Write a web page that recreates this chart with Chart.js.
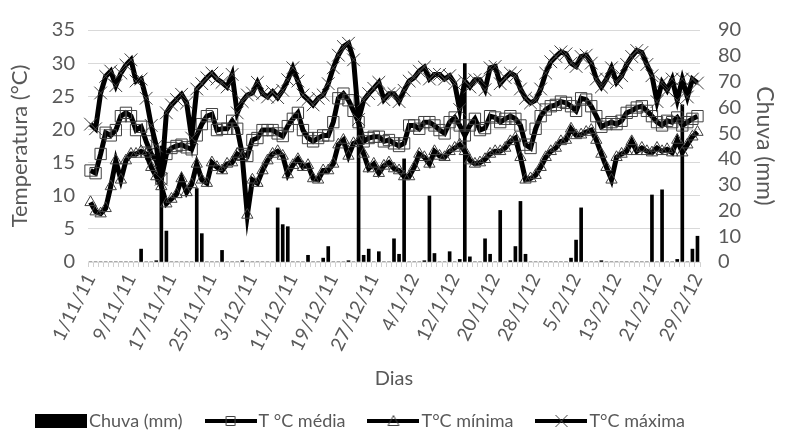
<!DOCTYPE html>
<html>
<head>
<meta charset="utf-8">
<script src="https://cdn.jsdelivr.net/npm/chart.js@4.4.1/dist/chart.umd.min.js"></script>
<style>
  html, body { margin: 0; padding: 0; background: #fff; }
  #wrap { position: relative; width: 785px; height: 433px; }
</style>
</head>
<body>
<div id="wrap"><canvas id="climaChart"></canvas></div>
<script>
// dias de 1/11/11 a 29/2/12
const dias = [
  '1/11/11','2/11/11','3/11/11','4/11/11','5/11/11','6/11/11','7/11/11','8/11/11','9/11/11','10/11/11',
  '11/11/11','12/11/11','13/11/11','14/11/11','15/11/11','16/11/11','17/11/11','18/11/11','19/11/11','20/11/11',
  '21/11/11','22/11/11','23/11/11','24/11/11','25/11/11','26/11/11','27/11/11','28/11/11','29/11/11','30/11/11',
  '1/12/11','2/12/11','3/12/11','4/12/11','5/12/11','6/12/11','7/12/11','8/12/11','9/12/11','10/12/11',
  '11/12/11','12/12/11','13/12/11','14/12/11','15/12/11','16/12/11','17/12/11','18/12/11','19/12/11','20/12/11',
  '21/12/11','22/12/11','23/12/11','24/12/11','25/12/11','26/12/11','27/12/11','28/12/11','29/12/11','30/12/11',
  '31/12/11','1/1/12','2/1/12','3/1/12','4/1/12','5/1/12','6/1/12','7/1/12','8/1/12','9/1/12',
  '10/1/12','11/1/12','12/1/12','13/1/12','14/1/12','15/1/12','16/1/12','17/1/12','18/1/12','19/1/12',
  '20/1/12','21/1/12','22/1/12','23/1/12','24/1/12','25/1/12','26/1/12','27/1/12','28/1/12','29/1/12',
  '30/1/12','31/1/12','1/2/12','2/2/12','3/2/12','4/2/12','5/2/12','6/2/12','7/2/12','8/2/12',
  '9/2/12','10/2/12','11/2/12','12/2/12','13/2/12','14/2/12','15/2/12','16/2/12','17/2/12','18/2/12',
  '19/2/12','20/2/12','21/2/12','22/2/12','23/2/12','24/2/12','25/2/12','26/2/12','27/2/12','28/2/12',
  '29/2/12'
];

const chuva = [
  0, 0, 0, 0, 0, 0, 0, 0, 0, 0,
  5, 0, 0, 0.5, 45, 12, 0, 0, 0, 0,
  0, 28.5, 11, 0, 0, 0, 4.5, 0, 0, 0,
  0.5, 0, 0, 0, 0, 0, 0, 21, 14.5, 13.7,
  0, 0, 0, 2.6, 0, 0, 1.5, 6, 0, 0,
  0, 0.5, 0, 55, 2.6, 5, 0, 4, 0, 0,
  9, 3, 40, 0, 0, 0, 0.5, 25.6, 3.3, 0,
  0, 4, 0, 1, 77, 2, 0, 0, 9, 3,
  0, 20, 0, 0.5, 6, 23.5, 3, 0, 0, 0,
  0, 0, 0, 0, 0, 1.5, 8.5, 21, 0, 0,
  0, 0.5, 0, 0, 0, 0, 0, 0, 0, 0,
  0, 26, 0, 28, 0, 0, 1, 61, 0, 5,
  10
];

const tMedia = [
  13.8, 13.4, 16.3, 19.5, 19.1, 19.9, 22, 22.5, 22, 19.9,
  20.4, 18.2, 16.3, 15.3, 12.6, 16.3, 17.2, 17.5, 17.7, 17.3,
  17, 19.1, 20.8, 22, 22.3, 19.9, 20.1, 20.1, 21.3, 20.1,
  16.3, 16, 18.4, 18.7, 19.9, 19.9, 19.9, 19.4, 19, 20.5,
  21.6, 22.5, 19.9, 18.7, 18.2, 18.7, 19.1, 19.1, 21.1, 24.7,
  25.4, 24.4, 22.8, 21.1, 18.2, 18.7, 18.9, 18.9, 18.2, 18.4,
  17.9, 17.5, 17.9, 20.6, 20.6, 20.1, 21.1, 21.1, 20.6, 19.9,
  19.4, 21.1, 21.8, 20.6, 19.1, 20.6, 21.6, 19.9, 20.2, 22,
  21.8, 21.1, 21.6, 22, 21.6, 20.6, 17.7, 17.2, 20.1, 22,
  23, 23.5, 23.7, 24.2, 24, 23.5, 22.8, 24.7, 24.5, 23.5,
  22, 20.4, 20.8, 21.1, 20.8, 21.3, 22.5, 22.8, 23.3, 23.5,
  22.8, 22, 21.1, 20.6, 21.3, 21.1, 21.8, 20.6, 21.1, 21.6,
  22
];

const tMinima = [
  9, 7.6, 7.3, 8.1, 11.4, 15.3, 12.4, 15.3, 16.3, 16.3,
  16.7, 16.3, 14.3, 12.9, 11.4, 8.8, 9.5, 10.2, 12.6, 10.5,
  11.7, 14.8, 12.4, 11.9, 15, 14.3, 13.8, 14.8, 15, 16.3,
  15.8, 7.1, 12.4, 11.9, 13.8, 15.3, 16.3, 16.7, 16, 13.2,
  14.6, 15.5, 14.3, 14.6, 12.6, 12.4, 13.8, 13.8, 14.8, 17.7,
  18.4, 16, 17.9, 18.2, 16.3, 14.1, 14.8, 13.4, 14.5, 15,
  14.1, 13.8, 12.9, 12.9, 14.3, 16.3, 15.8, 14.8, 16.7, 16,
  15.8, 16.7, 17.2, 17.7, 16.7, 15.3, 14.8, 15, 15.5, 16.3,
  16.7, 16.7, 17.2, 18.2, 18.7, 15.8, 12.4, 12.6, 13.1, 14.3,
  15.8, 16.7, 17.2, 18.2, 18.4, 20.1, 19.1, 19.2, 19.6, 19.9,
  18.4, 16.3, 14.3, 12.4, 15.8, 16.3, 16.7, 18.2, 16.7, 17.2,
  16.7, 16.5, 17.2, 16.7, 17, 16.5, 18.4, 16.5, 17.7, 18.9,
  19.6
];

const tMaxima = [
  20.8, 20.1, 25.5, 28, 28.8, 26.6, 28.5, 29.7, 30.5, 27.3,
  27.6, 24.7, 20.6, 17.5, 12.5, 22.5, 23.7, 24.5, 25.3, 24,
  18.7, 26.1, 26.9, 27.8, 28.5, 27.6, 27.1, 26.4, 28.3, 22.5,
  24.2, 25.2, 25.5, 27.1, 25.4, 24.9, 25.7, 24.8, 25.9, 27.5,
  29.3, 27.3, 25.2, 24.5, 23.7, 24.7, 25.2, 26.9, 29.3, 31.2,
  32.5, 33, 30.5, 21.5, 24.4, 25.4, 26.2, 27.1, 24.5, 25.4,
  25.4, 24.2, 25.9, 27.3, 27.8, 28.8, 29.4, 27.6, 28.3, 28.3,
  27.6, 28.1, 26.9, 23, 27.3, 26.4, 27.5, 27.5, 26, 29.3,
  29.5, 26.9, 27.8, 28.5, 28.1, 26.1, 24.7, 24, 24.4, 26.1,
  28.5, 30.2, 31, 31.7, 31.4, 30, 29.5, 31, 31.2, 30,
  27.6, 26.4, 27.6, 29.3, 27.1, 28.1, 29.8, 31, 31.9, 31.6,
  29.8, 28.1, 24.2, 27.1, 25.9, 27.6, 24.4, 27.6, 24.9, 27.6,
  27
];

const nomes = ['Chuva (mm)', 'T °C média', 'T°C mínima', 'T°C máxima'];

const grayText = '#595959';
const markerColor = '#404040';
const fontFamily = 'Lato, "Open Sans", sans-serif';

// legend swatch like Excel: line with marker in the middle
function makeSwatch(kind) {
  const c = document.createElement('canvas');
  c.width = 52;
  c.height = 18;
  const g = c.getContext('2d');
  if (kind === 'bar') {
    g.fillStyle = '#000';
    g.fillRect(0, 2, 52, 14);
    return c;
  }
  g.strokeStyle = '#000';
  g.lineWidth = 4;
  g.beginPath();
  g.moveTo(0, 9);
  g.lineTo(52, 9);
  g.stroke();
  g.strokeStyle = markerColor;
  g.lineWidth = 1;
  g.beginPath();
  if (kind === 'rect') {
    g.rect(21.5, 4.5, 9, 9);
  } else if (kind === 'triangle') {
    g.moveTo(26, 3.5);
    g.lineTo(31.5, 13.5);
    g.lineTo(20.5, 13.5);
    g.closePath();
  } else {
    g.moveTo(20, 3);
    g.lineTo(32, 15);
    g.moveTo(32, 3);
    g.lineTo(20, 15);
  }
  g.stroke();
  return c;
}

const swatches = [makeSwatch('bar'), makeSwatch('rect'), makeSwatch('triangle'), makeSwatch('cross')];

// Excel-like legend drawn under the axis title
const legendaPlugin = {
  id: 'legenda',
  afterDraw(chart) {
    const ctx = chart.ctx;
    ctx.save();
    ctx.font = '18px ' + fontFamily;
    ctx.fillStyle = grayText;
    ctx.textBaseline = 'middle';
    let x = 35;
    const y = 421;
    nomes.forEach((n, i) => {
      ctx.drawImage(swatches[i], x, y - 9);
      ctx.fillText(n, x + 54, y);
      x += 54 + ctx.measureText(n).width + 22;
    });
    ctx.restore();
  }
};

function lineSet(label, data, style, radius, order) {
  return {
    type: 'line',
    label: label,
    data: data,
    yAxisID: 'y',
    borderColor: '#000',
    borderWidth: 5,
    tension: 0,
    pointStyle: style,
    pointRadius: radius,
    pointBorderColor: markerColor,
    pointBackgroundColor: 'rgba(0,0,0,0)',
    pointBorderWidth: 1,
    order: order
  };
}

function initChart() {
  const canvas = document.getElementById('climaChart');
  const ctx = canvas.getContext('2d');

  window.climaChart = new Chart(ctx, {
    data: {
      labels: dias,
      datasets: [
        {
          type: 'bar',
          label: nomes[0],
          data: chuva,
          yAxisID: 'y1',
          backgroundColor: '#000',
          barThickness: 3,
          order: 4
        },
        lineSet(nomes[1], tMedia, 'rect', 8, 3),
        lineSet(nomes[2], tMinima, 'triangle', 6.5, 2),
        lineSet(nomes[3], tMaxima, 'crossRot', 9, 1)
      ]
    },
    plugins: [legendaPlugin],
    options: {
      responsive: true,
      maintainAspectRatio: false,
      animation: false,
      layout: { padding: { left: 0, right: 0, top: 10, bottom: 40 } },
      plugins: {
        tooltip: { enabled: false },
        legend: { display: false }
      },
      scales: {
        x: {
          type: 'category',
          offset: true,
          afterFit: (scale) => { scale.height = 131; },
          grid: {
            display: true,
            drawOnChartArea: false,
            drawTicks: true,
            tickLength: 5,
            color: '#d0d0d0'
          },
          border: { display: true, color: '#d9d9d9' },
          ticks: {
            autoSkip: false,
            minRotation: 63,
            maxRotation: 63,
            color: grayText,
            font: { family: fontFamily, size: 19 },
            callback: (v, i) => (i % 8 === 0 ? dias[i] : '')
          },
          title: {
            display: true,
            text: 'Dias',
            color: grayText,
            font: { family: fontFamily, size: 20 },
            padding: { top: 0, bottom: 2 }
          }
        },
        y: {
          position: 'left',
          min: 0,
          max: 35,
          afterFit: (scale) => { scale.width = 88; },
          grid: { color: '#d9d9d9', drawTicks: false },
          border: { display: false },
          ticks: {
            stepSize: 5,
            padding: 13,
            color: grayText,
            font: { family: fontFamily, size: 20 }
          },
          title: {
            display: true,
            text: 'Temperatura (°C)',
            color: grayText,
            font: { family: fontFamily, size: 22 },
            padding: { top: 7, bottom: 0 }
          }
        },
        y1: {
          position: 'right',
          min: 0,
          max: 90,
          afterFit: (scale) => { scale.width = 85; },
          grid: { drawOnChartArea: false, drawTicks: false },
          border: { display: false },
          ticks: {
            stepSize: 10,
            autoSkip: false,
            padding: 18,
            color: grayText,
            font: { family: fontFamily, size: 20 }
          },
          title: {
            display: true,
            text: 'Chuva (mm)',
            color: grayText,
            font: { family: fontFamily, size: 23 },
            padding: { top: 7, bottom: 0 }
          }
        }
      }
    }
  });
}

if (document.readyState === 'loading') {
  document.addEventListener('DOMContentLoaded', initChart);
} else {
  initChart();
}
</script>
</body>
</html>
